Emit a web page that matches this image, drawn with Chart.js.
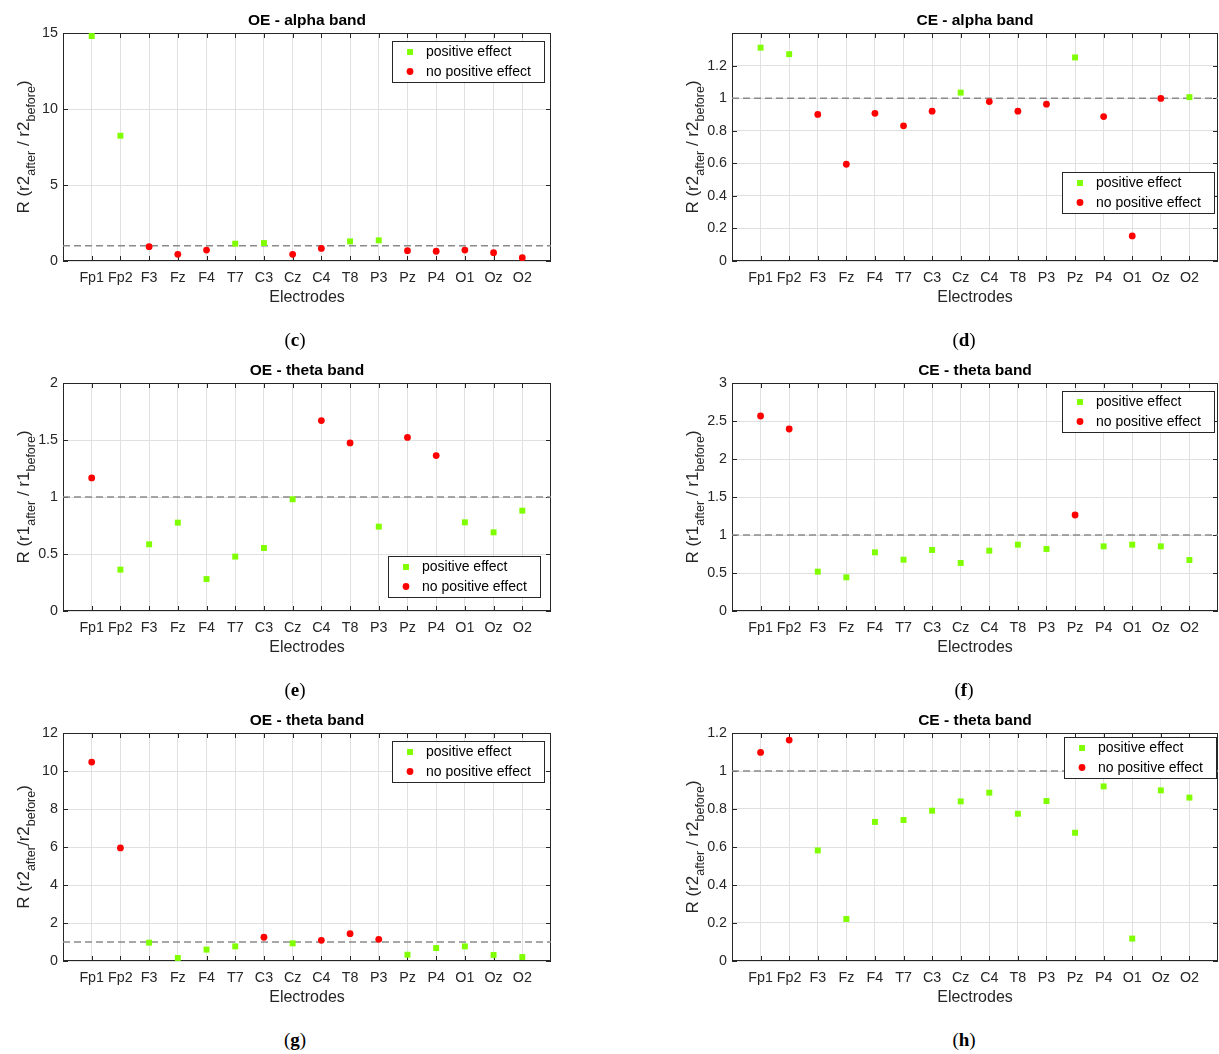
<!DOCTYPE html>
<html>
<head>
<meta charset="utf-8">
<title>R per electrode</title>
<script src="https://cdn.jsdelivr.net/npm/chart.js@4.4.1/dist/chart.umd.min.js"></script>
<style>
  html, body { margin: 0; padding: 0; background: #fff; }
  body { width: 1219px; height: 1054px; overflow: hidden; position: relative; }
  .panel { position: absolute; width: 560px; height: 320px; }
  .caption { position: absolute; width: 60px; margin-left: -30px; text-align: center;
             font-family: 'Liberation Serif', serif; font-size: 19px; line-height: 20px; color: #000; }
</style>
</head>
<body>
<div class="panel" style="left:0;top:0"><canvas id="chartC" width="560" height="320"></canvas></div>
<div class="panel" style="left:669px;top:0"><canvas id="chartD" width="560" height="320"></canvas></div>
<div class="panel" style="left:0;top:350px"><canvas id="chartE" width="560" height="320"></canvas></div>
<div class="panel" style="left:669px;top:350px"><canvas id="chartF" width="560" height="320"></canvas></div>
<div class="panel" style="left:0;top:700px"><canvas id="chartG" width="560" height="320"></canvas></div>
<div class="panel" style="left:669px;top:700px"><canvas id="chartH" width="560" height="320"></canvas></div>

<div class="caption" style="left:295px;top:330px">(<b>c</b>)</div>
<div class="caption" style="left:964px;top:330px">(<b>d</b>)</div>
<div class="caption" style="left:295px;top:680px">(<b>e</b>)</div>
<div class="caption" style="left:964px;top:680px">(<b>f</b>)</div>
<div class="caption" style="left:295px;top:1030px">(<b>g</b>)</div>
<div class="caption" style="left:964px;top:1030px">(<b>h</b>)</div>

<script>
const electrodes = ['Fp1', 'Fp2', 'F3', 'Fz', 'F4', 'T7', 'C3', 'Cz', 'C4', 'T8', 'P3', 'Pz', 'P4', 'O1', 'Oz', 'O2'];

// R values per electrode, plus 1 = positive effect / 0 = no positive effect
const oeAlphaR = [14.8, 8.24, 0.94, 0.44, 0.72, 1.14, 1.18, 0.44, 0.83, 1.29, 1.36, 0.68, 0.64, 0.72, 0.55, 0.22];
const oeAlphaPos = [1, 1, 0, 0, 0, 1, 1, 0, 0, 1, 1, 0, 0, 0, 0, 0];

const ceAlphaR = [1.31, 1.27, 0.90, 0.594, 0.907, 0.83, 0.92, 1.034, 0.979, 0.92, 0.963, 1.25, 0.887, 0.154, 0.998, 1.006];
const ceAlphaPos = [1, 1, 0, 0, 0, 0, 0, 1, 0, 0, 0, 1, 0, 0, 0, 1];

const oeThetaR1 = [1.167, 0.363, 0.585, 0.775, 0.28, 0.477, 0.553, 0.98, 1.67, 1.474, 0.74, 1.523, 1.363, 0.778, 0.69, 0.88];
const oeThetaR1Pos = [0, 1, 1, 1, 1, 1, 1, 1, 0, 0, 1, 0, 0, 1, 1, 1];

const ceThetaR1 = [2.566, 2.395, 0.518, 0.443, 0.772, 0.675, 0.803, 0.632, 0.794, 0.873, 0.816, 1.263, 0.851, 0.873, 0.851, 0.671];
const ceThetaR1Pos = [0, 0, 1, 1, 1, 1, 1, 1, 1, 1, 1, 0, 1, 1, 1, 1];

const oeThetaR2 = [10.47, 5.95, 0.965, 0.16, 0.6, 0.77, 1.25, 0.93, 1.09, 1.44, 1.14, 0.33, 0.68, 0.77, 0.32, 0.21];
const oeThetaR2Pos = [0, 0, 1, 1, 1, 1, 0, 1, 0, 0, 0, 1, 1, 1, 1, 1];

const ceThetaR2 = [1.098, 1.163, 0.582, 0.221, 0.732, 0.742, 0.791, 0.84, 0.886, 0.775, 0.842, 0.675, 0.919, 0.118, 0.898, 0.86];
const ceThetaR2Pos = [0, 0, 1, 1, 1, 1, 1, 1, 1, 1, 1, 1, 1, 1, 1, 1];

// y tick labels
const ticksOeAlpha = [0, 5, 10, 15];
const ticksCeAlpha = [0, 0.2, 0.4, 0.6, 0.8, 1, 1.2];
const ticksOeThetaR1 = [0, 0.5, 1, 1.5, 2];
const ticksCeThetaR1 = [0, 0.5, 1, 1.5, 2, 2.5, 3];
const ticksOeThetaR2 = [0, 2, 4, 6, 8, 10, 12];
const ticksCeThetaR2 = [0, 0.2, 0.4, 0.6, 0.8, 1, 1.2];

const referenceLevel = 1;

const FONT = '"Liberation Sans", Arial, sans-serif';
const AXIS_COLOR = '#262626';
const GRID_COLOR = '#e0e0e0';
const GREEN = '#80ff00';
const RED = '#ff0000';

Chart.defaults.font.family = FONT;
Chart.defaults.color = AXIS_COLOR;

// box, inward ticks, title, y label with subscripts, legend
const matlabLook = {
    id: 'matlabLook',
    beforeDatasetsDraw(chart) {
        const { ctx, chartArea: a, scales: { x, y } } = chart;
        ctx.save();
        ctx.strokeStyle = AXIS_COLOR;
        ctx.lineWidth = 1;
        ctx.beginPath();
        x.ticks.forEach(t => {
            const px = Math.round(x.getPixelForValue(t.value)) + 0.5;
            ctx.moveTo(px, a.bottom); ctx.lineTo(px, a.bottom - 5);
            ctx.moveTo(px, a.top); ctx.lineTo(px, a.top + 5);
        });
        y.ticks.forEach(t => {
            const py = Math.round(y.getPixelForValue(t.value)) + 0.5;
            ctx.moveTo(a.left, py); ctx.lineTo(a.left + 5, py);
            ctx.moveTo(a.right, py); ctx.lineTo(a.right - 5, py);
        });
        ctx.stroke();
        ctx.strokeRect(Math.round(a.left) + 0.5, Math.round(a.top) + 0.5,
            Math.round(a.width) - 1, Math.round(a.height) - 1);
        ctx.restore();
    },
    afterDraw(chart, args, opts) {
        const { ctx, chartArea: a } = chart;
        ctx.save();

        // title
        ctx.fillStyle = '#000';
        ctx.font = 'bold 15.5px ' + FONT;
        ctx.textAlign = 'center';
        ctx.textBaseline = 'middle';
        ctx.fillText(opts.title, (a.left + a.right) / 2, a.top - 12);

        // y label, rotated, with subscripts
        const mainFont = '17px ' + FONT;
        const subFont = '12.5px ' + FONT;
        const parts = [
            { t: 'R (' + opts.ratio, sub: false },
            { t: 'after', sub: true },
            { t: opts.slash + opts.ratio, sub: false },
            { t: 'before', sub: true },
            { t: ')', sub: false }
        ];
        let total = 0;
        parts.forEach(p => {
            ctx.font = p.sub ? subFont : mainFont;
            p.w = ctx.measureText(p.t).width;
            total += p.w;
        });
        ctx.translate(29, (a.top + a.bottom) / 2);
        ctx.rotate(-Math.PI / 2);
        ctx.textAlign = 'left';
        ctx.textBaseline = 'alphabetic';
        ctx.fillStyle = AXIS_COLOR;
        let cx = -total / 2;
        parts.forEach(p => {
            ctx.font = p.sub ? subFont : mainFont;
            ctx.fillText(p.t, cx, p.sub ? 6 : 0);
            cx += p.w;
        });
        ctx.setTransform(1, 0, 0, 1, 0, 0);

        // legend box inside the axes
        const lx = Math.round(a.left + opts.legendX), ly = Math.round(a.top + opts.legendY);
        ctx.fillStyle = '#fff';
        ctx.fillRect(lx, ly, 152, 41);
        ctx.strokeStyle = AXIS_COLOR;
        ctx.lineWidth = 1;
        ctx.strokeRect(lx + 0.5, ly + 0.5, 152, 41);
        ctx.font = '14px ' + FONT;
        ctx.textBaseline = 'middle';
        chart.data.datasets.filter(d => d.inLegend).forEach((ds, i) => {
            const my = ly + 11 + i * 19.5;
            const mx = lx + 18;
            ctx.fillStyle = ds.backgroundColor;
            if (ds.pointStyle === 'rect') {
                const s = ds.pointRadius * Math.SQRT1_2;
                ctx.fillRect(mx - s, my - s, 2 * s, 2 * s);
            } else {
                ctx.beginPath();
                ctx.arc(mx, my, ds.pointRadius, 0, Math.PI * 2);
                ctx.fill();
            }
            ctx.fillStyle = '#000';
            ctx.fillText(ds.label, lx + 34, my + 0.5);
        });
        ctx.restore();
    }
};

function points(values, flags, wanted) {
    return values
        .map((v, i) => (flags[i] === wanted ? { x: i + 1, y: v } : null))
        .filter(p => p !== null);
}

function makePanel(id, cfg) {
    return new Chart(document.getElementById(id), {
        type: 'scatter',
        data: {
            datasets: [
                {
                    label: 'positive effect',
                    inLegend: true,
                    data: points(cfg.values, cfg.positive, 1),
                    pointStyle: 'rect',
                    pointRadius: 4.2,
                    backgroundColor: GREEN,
                    borderWidth: 0,
                    order: 1
                },
                {
                    label: 'no positive effect',
                    inLegend: true,
                    data: points(cfg.values, cfg.positive, 0),
                    pointStyle: 'circle',
                    pointRadius: 3.4,
                    backgroundColor: RED,
                    borderWidth: 0,
                    order: 2
                },
                {
                    type: 'line',
                    label: 'reference',
                    data: [{ x: 0, y: referenceLevel }, { x: electrodes.length + 1, y: referenceLevel }],
                    borderColor: '#8a8a8a',
                    borderWidth: 1.5,
                    borderDash: [7, 4],
                    pointRadius: 0,
                    fill: false,
                    order: 10
                }
            ]
        },
        options: {
            responsive: false,
            animation: false,
            events: [],
            clip: false,
            layout: { padding: { top: 33, right: cfg.rightPad, left: 0, bottom: 0 } },
            plugins: {
                legend: { display: false },
                tooltip: { enabled: false },
                title: { display: false },
                matlabLook: {
                    title: cfg.title,
                    ratio: cfg.ratio,
                    slash: cfg.slash,
                    legendX: cfg.legendAt[0],
                    legendY: cfg.legendAt[1]
                }
            },
            scales: {
                x: {
                    type: 'linear',
                    min: 0,
                    max: electrodes.length + 1,
                    afterBuildTicks: s => { s.ticks = electrodes.map((_, i) => ({ value: i + 1 })); },
                    afterFit: s => { s.height = 59; },
                    grid: { color: GRID_COLOR, drawTicks: false },
                    border: { display: false },
                    ticks: {
                        autoSkip: false,
                        maxRotation: 0,
                        padding: 8,
                        color: AXIS_COLOR,
                        font: { size: 14.3 },
                        callback: v => electrodes[v - 1]
                    },
                    title: {
                        display: true,
                        text: 'Electrodes',
                        color: AXIS_COLOR,
                        font: { size: 16 },
                        padding: { top: 0, bottom: 13 }
                    }
                },
                y: {
                    min: 0,
                    max: cfg.yMax,
                    afterBuildTicks: s => { s.ticks = cfg.yTicks.map(v => ({ value: v })); },
                    afterFit: s => { s.width = 63; },
                    grid: { color: GRID_COLOR, drawTicks: false },
                    border: { display: false },
                    ticks: {
                        padding: 5,
                        color: AXIS_COLOR,
                        font: { size: 14.3 },
                        callback: v => String(+Number(v).toFixed(2))
                    }
                }
            }
        },
        plugins: [matlabLook]
    });
}

makePanel('chartC', {
    title: 'OE - alpha band', values: oeAlphaR, positive: oeAlphaPos,
    yMax: 15, yTicks: ticksOeAlpha, ratio: 'r2', slash: ' / ', legendAt: [329, 8], rightPad: 9
});
makePanel('chartD', {
    title: 'CE - alpha band', values: ceAlphaR, positive: ceAlphaPos,
    yMax: 1.4, yTicks: ticksCeAlpha, ratio: 'r2', slash: ' / ', legendAt: [330, 139], rightPad: 11
});
makePanel('chartE', {
    title: 'OE - theta band', values: oeThetaR1, positive: oeThetaR1Pos,
    yMax: 2, yTicks: ticksOeThetaR1, ratio: 'r1', slash: ' / ', legendAt: [325, 173], rightPad: 9
});
makePanel('chartF', {
    title: 'CE - theta band', values: ceThetaR1, positive: ceThetaR1Pos,
    yMax: 3, yTicks: ticksCeThetaR1, ratio: 'r1', slash: ' / ', legendAt: [330, 8], rightPad: 11
});
makePanel('chartG', {
    title: 'OE - theta band', values: oeThetaR2, positive: oeThetaR2Pos,
    yMax: 12, yTicks: ticksOeThetaR2, ratio: 'r2', slash: '/', legendAt: [329, 8], rightPad: 9
});
makePanel('chartH', {
    title: 'CE - theta band', values: ceThetaR2, positive: ceThetaR2Pos,
    yMax: 1.2, yTicks: ticksCeThetaR2, ratio: 'r2', slash: ' / ', legendAt: [332, 4], rightPad: 11
});
</script>
</body>
</html>
